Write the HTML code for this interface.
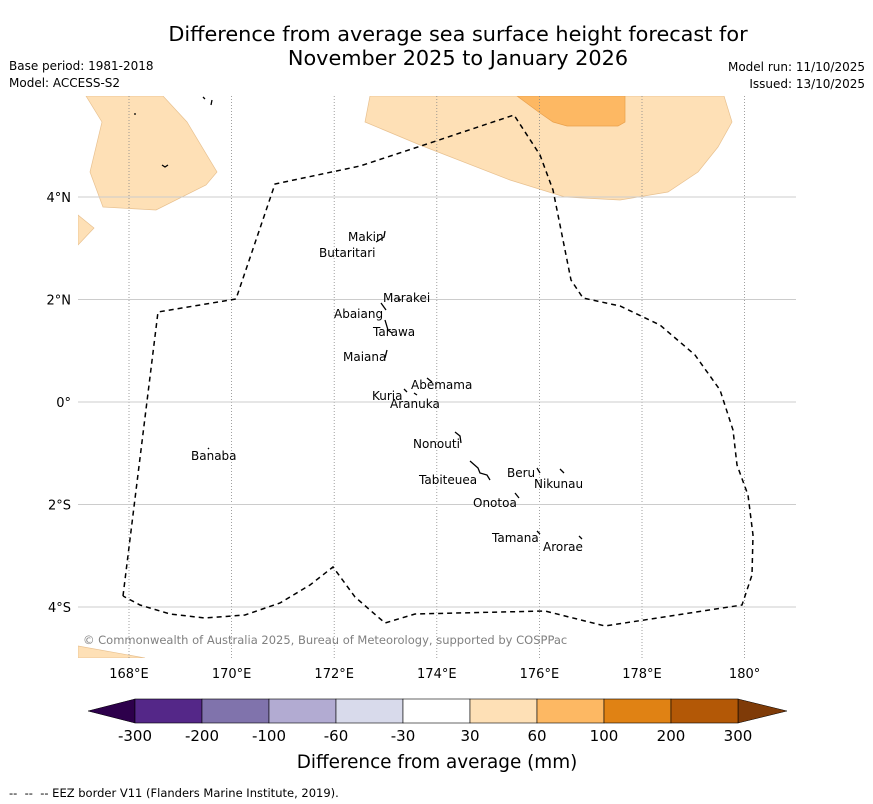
<!DOCTYPE html>
<html><head><meta charset="utf-8"><style>
body{margin:0;background:#fff;}
svg{display:block;font-family:"DejaVu Sans","Liberation Sans",sans-serif;}
</style></head><body>
<svg width="873" height="804" viewBox="0 0 873 804">
<text x="458" y="41" font-size="20.8" text-anchor="middle">Difference from average sea surface height forecast for</text>
<text x="458" y="65" font-size="20.8" text-anchor="middle">November 2025 to January 2026</text>
<text x="9" y="70" font-size="12">Base period: 1981-2018</text>
<text x="9" y="87" font-size="12">Model: ACCESS-S2</text>
<text x="865" y="71" font-size="12" text-anchor="end">Model run: 11/10/2025</text>
<text x="865" y="88" font-size="12" text-anchor="end">Issued: 13/10/2025</text>
<g id="map">
<clipPath id="mc"><rect x="78" y="96" width="718" height="562"/></clipPath>
<g clip-path="url(#mc)">
<polygon points="86,96 163,96 187,122 217,172 206,185 156,210 103,207 90,172 102,122" fill="#fee0b6" stroke="#e8c190" stroke-width="0.7"/>
<polygon points="78,215 94,228 78,245" fill="#fee0b6" stroke="#e8c190" stroke-width="0.7"/>
<polygon points="370,96 365,122 420,145 510,180 565,197 620,200 668,192 698,172 718,147 732,122 724,96" fill="#fee0b6" stroke="#e8c190" stroke-width="0.7"/>
<polygon points="517,96 540,113 553,122 567,126 618,126 625,122 625,96" fill="#fdb863" stroke="#e9a04c" stroke-width="0.7"/>
<polygon points="78,646 145,658 78,658" fill="#fee0b6" stroke="#e8c190" stroke-width="0.7"/>
<g id="grid"></g>
<polyline fill="none" stroke="#000" stroke-width="1.5" stroke-dasharray="5,4" points="123,596 158,312 236,299 275,184 360,166 430,143 514,115 540,155 553,190 571,280 583,298 620,306 660,325 695,355 720,390 733,430 737,465 748,495 753,535 752,575 742,605 605,626 545,611 415,614 385,623 355,597 333,567 310,585 280,603 245,615 205,618 170,614 140,605 123,596"/>
<g fill="none" stroke="#000" stroke-width="1.3">
<path d="M134,114 l2,0 M203,97 l2,2 M212,100 l-1,5 M162,165 l3,2 l3,-2 M385,231 l-1,6 l-8,5 M381,303 l5,7 M385,320 l3,10 l4,3 M387,350 l-2,8 M427,378 l5,4 M404,389 l3,3 M414,393 l3,2 M455,432 l5,4 l1,7 M470,461 l8,7 l2,5 l7,2 l3,5 M515,493 l4,5 M537,468 l3,5 M560,469 l4,4 M537,531 l3,3 M579,536 l3,3 M208,448 l1,1 M398,299 l3,1"/>
</g>
<g font-size="12" fill="#000">
<text x="348" y="241">Makin</text><text x="319" y="257">Butaritari</text>
<text x="383" y="302">Marakei</text><text x="334" y="318">Abaiang</text>
<text x="373" y="336">Tarawa</text><text x="343" y="361">Maiana</text>
<text x="411" y="389">Abemama</text><text x="372" y="400">Kuria</text>
<text x="390" y="408">Aranuka</text><text x="413" y="448">Nonouti</text>
<text x="191" y="460">Banaba</text><text x="507" y="477">Beru</text>
<text x="534" y="488">Nikunau</text><text x="419" y="484">Tabiteuea</text>
<text x="473" y="507">Onotoa</text><text x="492" y="542">Tamana</text>
<text x="543" y="551">Arorae</text>
</g>
</g>
<text x="83" y="644" font-size="11.5" fill="#808080">© Commonwealth of Australia 2025, Bureau of Meteorology, supported by COSPPac</text>
<g id="xt"></g>
<g id="yt"></g>
</g>
<g id="cb"></g>
<text x="437" y="768" font-size="18.4" text-anchor="middle">Difference from average (mm)</text>
<text x="9" y="797" font-size="11.5" xml:space="preserve" style="white-space:pre">--  --  -- EEZ border V11 (Flanders Marine Institute, 2019).</text>
</svg>
<script>
const lonTicks=[168,170,172,174,176,178,180];
const lonLabels=["168°E","170°E","172°E","174°E","176°E","178°E","180°"];
const latTicks=[4,2,0,-2,-4];
const latLabels=["4°N","2°N","0°","2°S","4°S"];
const cbLabels=["-300","-200","-100","-60","-30","30","60","100","200","300"];
const cbColors=["#542788","#8073ac","#b2abd2","#d8daeb","#ffffff","#fee0b6","#fdb863","#e08214","#b35806"];
const NS="http://www.w3.org/2000/svg";
function lonX(l){return 129+(l-168)*51.3;}
function latY(l){return 402-l*51.25;}
function mk(t,a,p){const e=document.createElementNS(NS,t);for(const k in a)e.setAttribute(k,a[k]);p.appendChild(e);return e;}
const grid=document.getElementById('grid'),xt=document.getElementById('xt'),yt=document.getElementById('yt'),cb=document.getElementById('cb');
lonTicks.forEach((l,i)=>{const x=lonX(l);
 const g=mk('line',{x1:x,x2:x,y1:96,y2:658,stroke:'#888','stroke-width':0.8,'stroke-dasharray':'1,2'},grid);
 
 
 const t=mk('text',{x:x,y:678,'font-size':13,'text-anchor':'middle'},xt);t.textContent=lonLabels[i];
 
 });
latTicks.forEach((l,i)=>{const y=latY(l);
 const g=mk('line',{x1:78,x2:796,y1:y,y2:y,stroke:'#ccc','stroke-width':1},grid);
 
 
 const t=mk('text',{x:71,y:y+5,'font-size':13,'text-anchor':'end'},yt);t.textContent=latLabels[i];
 
 });
const x0=135,x1=738,w=(x1-x0)/cbColors.length,y0=699,h=24;
let p=mk('polygon',{points:`88,711 ${x0},${y0} ${x0},${y0+h}`,fill:'#2d004b',stroke:'#000','stroke-width':0.5},cb);


p=mk('polygon',{points:`787,711 ${x1},${y0} ${x1},${y0+h}`,fill:'#7f3b08',stroke:'#000','stroke-width':0.5},cb);


cbColors.forEach((c,i)=>{const r=mk('rect',{x:x0+i*w,y:y0,width:w,height:h,fill:c,stroke:'#000','stroke-width':0.6},cb);
 
 });
cbLabels.forEach((s,i)=>{const t=mk('text',{x:x0+i*w,y:741,'font-size':15,'text-anchor':'middle'},cb);t.textContent=s;
 
 });
</script>
</body></html>
